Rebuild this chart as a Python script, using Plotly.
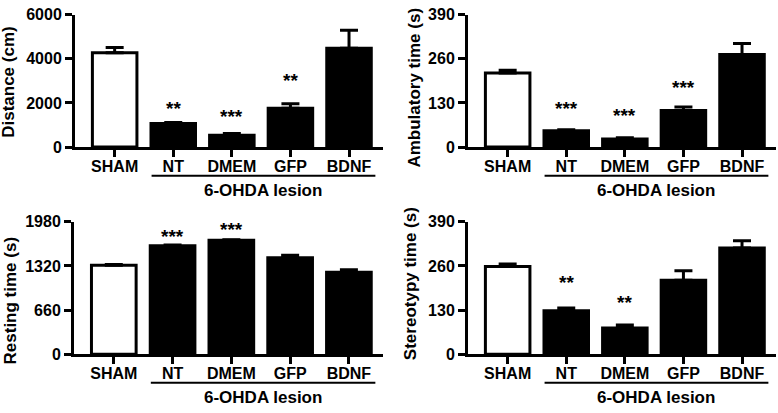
import plotly.graph_objects as go

categories = ["SHAM", "NT", "DMEM", "GFP", "BDNF"]

distance = [4280, 1070, 530, 1760, 4480]
distance_sem = [230, 40, 80, 200, 820]

ambulatory = [218, 48, 24, 108, 273]
ambulatory_sem = [8, 3, 3, 10, 32]

resting = [1330, 1622, 1703, 1441, 1226]
resting_sem = [12, 12, 10, 38, 38]

stereotypy = [258, 128, 77, 218, 313]
stereotypy_sem = [8, 8, 9, 28, 21]

# significance marks: (category index, text, height in data units)
stars_distance = [(1, "**", 1740), (2, "***", 1380), (3, "**", 3020)]
stars_ambulatory = [(1, "***", 113), (2, "***", 94), (3, "***", 176)]
stars_resting = [(1, "***", 1765), (2, "***", 1861)]
stars_stereotypy = [(1, "**", 211), (2, "**", 153)]

titles = ["Distance (cm)", "Ambulatory time (s)", "Resting time (s)", "Stereotypy time (s)"]
yticks = [[0, 2000, 4000, 6000], [0, 130, 260, 390], [0, 660, 1320, 1980], [0, 130, 260, 390]]

W, H = 778, 413
FONT = "Liberation Sans, Arial, sans-serif"

panels = [
    dict(vals=distance, sem=distance_sem, stars=stars_distance,
         px=(75, 383), py=(7, 145), title_xy=(9, 78)),
    dict(vals=ambulatory, sem=ambulatory_sem, stars=stars_ambulatory,
         px=(468, 776), py=(7, 145), title_xy=(415, 83)),
    dict(vals=resting, sem=resting_sem, stars=stars_resting,
         px=(74, 383), py=(223, 361), title_xy=(10, 305)),
    dict(vals=stereotypy, sem=stereotypy_sem, stars=stars_stereotypy,
         px=(468, 776), py=(223, 361), title_xy=(410, 288)),
]

fig = go.Figure()
annotations = []
shapes = []
xpos = list(range(len(categories)))

for i, p in enumerate(panels):
    n = "" if i == 0 else str(i + 1)
    xa, ya = "x" + n, "y" + n
    colors = ["white"] + ["black"] * (len(categories) - 1)
    fig.add_trace(go.Bar(
        x=xpos, y=p["vals"], xaxis=xa, yaxis=ya, width=0.76,
        marker=dict(color=colors, line=dict(color="black", width=3)),
        error_y=dict(type="data", symmetric=False, array=p["sem"],
                     arrayminus=[0] * len(categories), color="black",
                     thickness=3, width=9),
        showlegend=False, hoverinfo="skip",
    ))
    yt = yticks[i]
    x0, x1 = p["px"]
    y0, y1 = p["py"]
    fig.layout["xaxis" + n] = dict(
        domain=[x0 / W, x1 / W], anchor=ya, range=[-0.677, 4.58],
        tickvals=xpos, ticktext=categories, ticks="outside", ticklen=7,
        tickwidth=3, tickcolor="black", showline=True, linewidth=3,
        linecolor="black", showgrid=False, zeroline=False,
        ticklabelstandoff=-4,
        tickfont=dict(family=FONT, size=16, color="black", weight="bold"),
    )
    fig.layout["yaxis" + n] = dict(
        domain=[1 - y1 / H, 1 - y0 / H], anchor=xa, range=[0, yt[-1]],
        tickvals=yt, ticks="outside", ticklen=7, tickwidth=3,
        tickcolor="black", showline=True, linewidth=3, linecolor="black",
        showgrid=False, zeroline=False,
        tickfont=dict(family=FONT, size=16, color="black", weight="bold"),
    )
    # y-axis title
    tx, ty = p["title_xy"]
    annotations.append(dict(
        text="<b>%s</b>" % titles[i], xref="paper", yref="paper",
        x=tx / W, y=1 - ty / H, textangle=-90, showarrow=False,
        xanchor="center", yanchor="middle",
        font=dict(family=FONT, size=17, color="black"),
    ))
    # lesion group line and label
    shapes.append(dict(type="line", xref=xa, yref=ya + " domain",
                       x0=0.63, x1=4.45, y0=-0.217, y1=-0.217,
                       line=dict(color="black", width=2)))
    annotations.append(dict(
        text="<b>6-OHDA lesion</b>", xref=xa, yref=ya + " domain",
        x=2.53, y=-0.33, showarrow=False, xanchor="center", yanchor="middle",
        font=dict(family=FONT, size=17, color="black"),
    ))
    for (ci, txt, h) in p["stars"]:
        annotations.append(dict(
            text="<b>%s</b>" % txt, xref=xa, yref=ya, x=ci, y=h,
            showarrow=False, xanchor="center", yanchor="middle", yshift=0,
            font=dict(family=FONT, size=19, color="black"),
        ))

fig.update_layout(
    width=W, height=H, margin=dict(l=0, r=0, t=0, b=0),
    plot_bgcolor="white", paper_bgcolor="white",
    annotations=annotations, shapes=shapes, bargap=0.2,
)

fig.write_html(
    "out.html",
    config={"displayModeBar": False},
    post_script="document.body.style.margin='0';document.body.style.padding='0';document.body.style.overflow='hidden';",
)
